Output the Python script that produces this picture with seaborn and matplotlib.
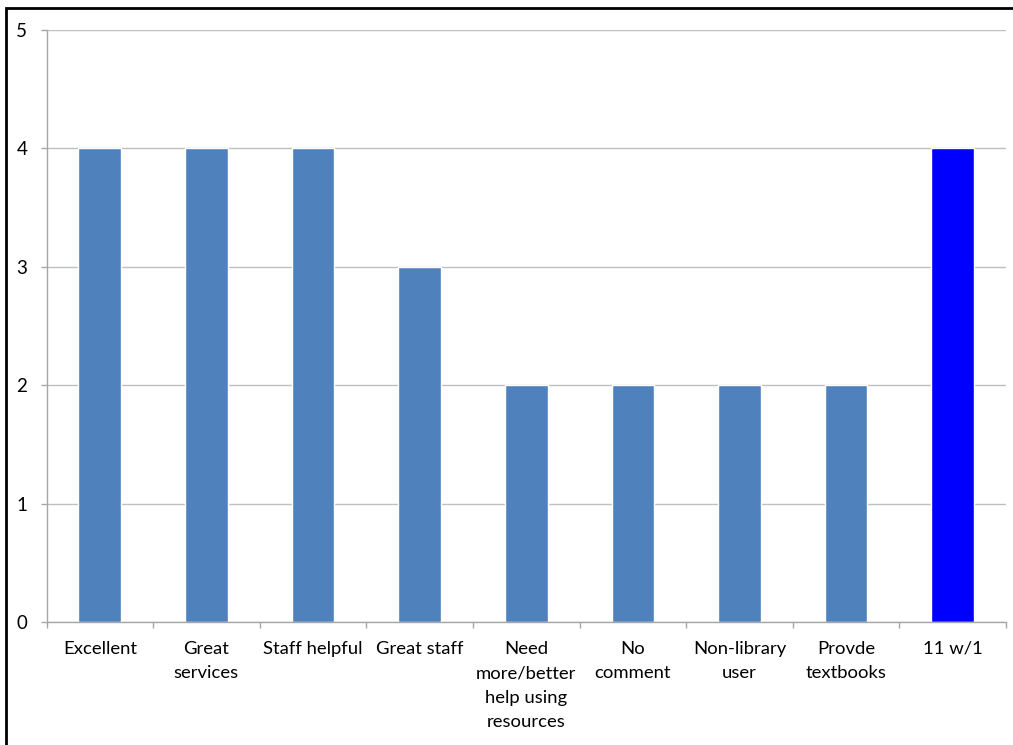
import matplotlib
matplotlib.use("Agg")
import matplotlib.pyplot as plt
from matplotlib.patches import Rectangle
import seaborn as sns
import pandas as pd

categories = ["Excellent", "Great\nservices", "Staff helpful", "Great staff",
              "Need\nmore/better\nhelp using\nresources", "No\ncomment",
              "Non-library\nuser", "Provde\ntextbooks", "11 w/1"]
counts = [4, 4, 4, 3, 2, 2, 2, 2, 4]
bar_colors = ["#4F81BD"] * 8 + ["#0000FF"]

sns.set_theme(style="white")
plt.rcParams["font.family"] = ["Lato", "DejaVu Sans"]

df = pd.DataFrame({"category": categories, "count": counts})

W, H = 1013, 745
fig = plt.figure(figsize=(W / 100, H / 100), dpi=100)
ax = fig.add_axes([46.5 / W, 1 - 622 / H, (1006 - 46.5) / W, (622 - 30) / H])

sns.barplot(data=df, x="category", y="count", hue="category",
            palette=bar_colors, legend=False, width=0.4, saturation=1,
            ax=ax)

ax.set_ylim(0, 5)
ax.set_xlim(-0.5, len(categories) - 0.5)
ax.set_yticks(range(0, 6))
ax.yaxis.grid(True, color="#BFBFBF", linewidth=1)
ax.set_axisbelow(True)
ax.set_xlabel("")
ax.set_ylabel("")

for side in ["top", "right"]:
    ax.spines[side].set_visible(False)
for side in ["left", "bottom"]:
    ax.spines[side].set_color("#A6A6A6")
    ax.spines[side].set_linewidth(1)

# category boundary ticks below the x axis
ax.set_xticks([i - 0.5 for i in range(len(categories) + 1)], minor=True)
ax.tick_params(axis="x", which="minor", length=4.3, color="#A6A6A6",
               width=1, direction="out", bottom=True)
ax.tick_params(axis="x", which="major", length=0, pad=13.5, labelsize=13.3,
               labelcolor="black")
ax.tick_params(axis="y", which="major", length=4.3, color="#A6A6A6",
               width=1, direction="out", left=True, pad=9.5, labelsize=13.5,
               labelcolor="black")
ax.set_xticks(range(len(categories)))
ax.set_xticklabels(categories, linespacing=1.65, va="top")

# chart frame
fig.patches.append(Rectangle((6 / W, -0.1), 1.2, 1 - 8 / H + 0.1,
                             transform=fig.transFigure, fill=False,
                             edgecolor="black", linewidth=2))

fig.savefig("out.png", dpi=100)
